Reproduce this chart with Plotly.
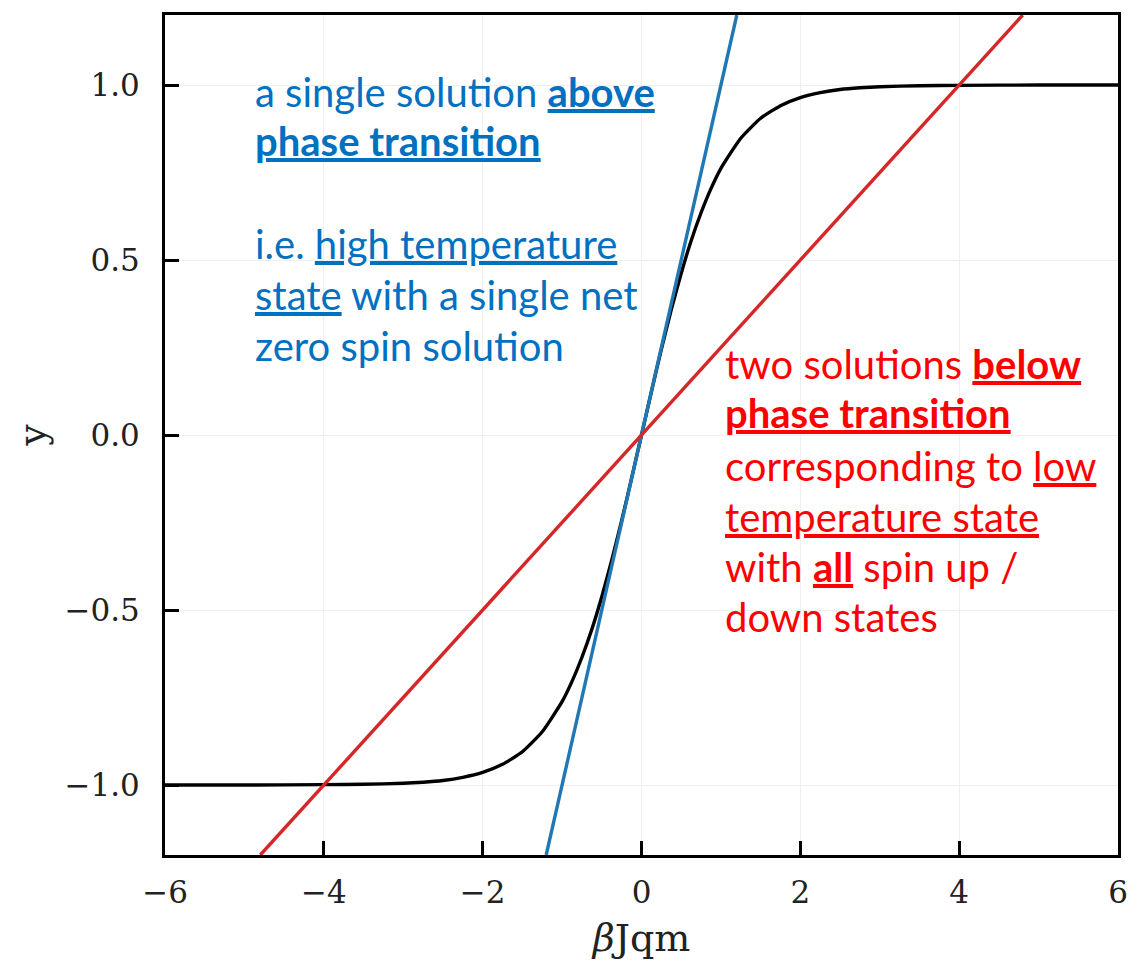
import plotly.graph_objects as go

# Curve y = tanh-like magnetisation curve
curve_x = [-6, -5, -4, -3.5, -3, -2.75, -2.5, -2.25, -2, -1.75, -1.5, -1.25, -1, -0.875, -0.75,
           -0.625, -0.5, -0.375, -0.25, -0.125, 0,
           0.125, 0.25, 0.375, 0.5, 0.625, 0.75, 0.875, 1, 1.25, 1.5, 1.75, 2, 2.25, 2.5, 2.75,
           3, 3.5, 4, 5, 6]
curve_y = [-1.0, -1.0, -0.999, -0.998, -0.995, -0.992, -0.987, -0.978, -0.964, -0.941, -0.905,
           -0.848, -0.762, -0.704, -0.635, -0.555, -0.462, -0.358, -0.245, -0.124, 0.0,
           0.124, 0.245, 0.358, 0.462, 0.555, 0.635, 0.704, 0.762, 0.848, 0.905, 0.941, 0.964,
           0.978, 0.987, 0.992, 0.995, 0.998, 0.999, 1.0, 1.0]

# Steep line (above transition)
steep_x = [-1.2, 1.2]
steep_y = [-1.2, 1.2]

# Shallow line (below transition)
shallow_x = [-4.8, 4.8]
shallow_y = [-1.2, 1.2]

x_ticks = [-6, -4, -2, 0, 2, 4, 6]
y_ticks = [-1.0, -0.5, 0.0, 0.5, 1.0]
y_tick_text = ["\u22121.0", "\u22120.5", "0.0", "0.5", "1.0"]
x_tick_text = ["\u22126", "\u22124", "\u22122", "0", "2", "4", "6"]

blue_lines = [
    "a single solution <u><b>above</b></u>",
    "<u><b>phase transition</b></u>",
    "i.e. <u>high temperature</u>",
    "<u>state</u> with a single net",
    "zero spin solution",
]
blue_y = [0.980, 0.841, 0.545, 0.400, 0.255]
blue_x = -4.89

red_lines = [
    "two solutions <u><b>below</b></u>",
    "<u><b>phase transition</b></u>",
    "corresponding to <u>low</u>",
    "<u>temperature state</u>",
    "with <u><b>all</b></u> spin up /",
    "down states",
]
red_y = [0.204, 0.062, -0.089, -0.233, -0.378, -0.520]
red_x = 1.03

fig = go.Figure()
fig.add_trace(go.Scatter(x=curve_x, y=curve_y, mode="lines",
                         line=dict(color="black", width=3.4, shape="spline", smoothing=0.5),
                         showlegend=False, hoverinfo="skip"))
fig.add_trace(go.Scatter(x=steep_x, y=steep_y, mode="lines",
                         line=dict(color="#1f77b4", width=3.4),
                         showlegend=False, hoverinfo="skip"))
fig.add_trace(go.Scatter(x=shallow_x, y=shallow_y, mode="lines",
                         line=dict(color="#d62728", width=3.4),
                         showlegend=False, hoverinfo="skip"))

annotations = []
for t, yy in zip(blue_lines, blue_y):
    annotations.append(dict(x=blue_x, y=yy, xref="x", yref="y", text=t, showarrow=False,
                            xanchor="left", yanchor="middle", align="left",
                            font=dict(family="Lato", size=40, color="#0070C0")))
for t, yy in zip(red_lines, red_y):
    annotations.append(dict(x=red_x, y=yy, xref="x", yref="y", text=t, showarrow=False,
                            xanchor="left", yanchor="middle", align="left",
                            font=dict(family="Lato", size=40, color="#FF0000")))

axis_common = dict(
    showline=True, linecolor="black", linewidth=3, mirror=True,
    ticks="inside", ticklen=14, tickwidth=3, tickcolor="black",
    showgrid=True, gridcolor="#efefef", gridwidth=1, zeroline=False,
    tickfont=dict(family="DejaVu Serif", size=31, color="#222"),
)

fig.update_xaxes(range=[-6, 6], tickvals=x_ticks, ticktext=x_tick_text,
                 title=dict(text="<i>β</i>Jqm", font=dict(family="DejaVu Serif", size=38, color="#222"),
                            standoff=16),
                 ticklabelstandoff=8, **axis_common)
fig.update_yaxes(range=[-1.2, 1.2], tickvals=y_ticks, ticktext=y_tick_text,
                 title=dict(text="y", font=dict(family="DejaVu Serif", size=38, color="#222"),
                            standoff=8),
                 ticklabelstandoff=16, **axis_common)

fig.update_layout(
    width=1140, height=953,
    margin=dict(l=157, r=30, t=4, b=106),
    plot_bgcolor="white", paper_bgcolor="white",
    annotations=annotations,
)

fig.write_html("out.html")
